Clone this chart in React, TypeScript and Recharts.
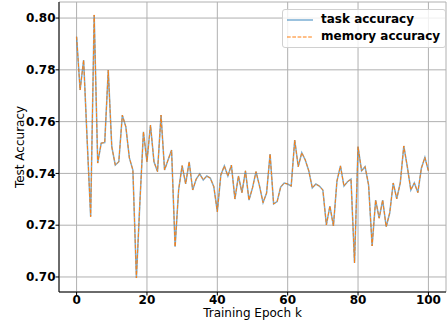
import {
  CartesianGrid,
  Line,
  LineChart,
  XAxis,
  YAxis,
} from "recharts";

const FONT = "'DejaVu Sans', sans-serif";

const epochs = Array.from({ length: 101 }, (_, i) => i);

const taskAccuracy = [
  0.7928, 0.7722, 0.7838, 0.7529, 0.7233, 0.8012, 0.744, 0.7517, 0.7519, 0.7799,
  0.7503, 0.7432, 0.7445, 0.7625, 0.758, 0.746, 0.7413, 0.6996, 0.729, 0.7561,
  0.7445, 0.7587, 0.7445, 0.7407, 0.7625, 0.7413, 0.7452, 0.749, 0.7117, 0.7336,
  0.743, 0.736, 0.7445, 0.7336, 0.7378, 0.7398, 0.7375, 0.739, 0.7382, 0.7349,
  0.7252, 0.7394, 0.7429, 0.739, 0.7432, 0.7301, 0.739, 0.7326, 0.741, 0.7297,
  0.7344, 0.7407, 0.7351, 0.7287, 0.7324, 0.7475, 0.7282, 0.7291, 0.7347, 0.7363,
  0.7359, 0.7351, 0.7529, 0.7426, 0.748, 0.7452, 0.741, 0.7344, 0.7359, 0.7351,
  0.7336, 0.7201, 0.7274, 0.7197, 0.737, 0.7429, 0.7351, 0.7368, 0.7378, 0.7054,
  0.7503, 0.741, 0.7426, 0.7355, 0.712, 0.7297, 0.7227, 0.7297, 0.7194, 0.7247,
  0.7363, 0.7302, 0.7363, 0.7506, 0.7426, 0.7336, 0.7363, 0.7326, 0.742, 0.7462,
  0.741,
];

const memoryAccuracy = [
  0.7928, 0.7722, 0.7838, 0.7529, 0.7233, 0.8012, 0.744, 0.7517, 0.7519, 0.7799,
  0.7503, 0.7432, 0.7445, 0.7625, 0.758, 0.746, 0.7413, 0.6996, 0.729, 0.7561,
  0.7445, 0.7587, 0.7445, 0.7407, 0.7625, 0.7413, 0.7452, 0.749, 0.7117, 0.7336,
  0.743, 0.736, 0.7445, 0.7336, 0.7378, 0.7398, 0.7375, 0.739, 0.7382, 0.7349,
  0.7252, 0.7394, 0.7429, 0.739, 0.7432, 0.7301, 0.739, 0.7326, 0.741, 0.7297,
  0.7344, 0.7407, 0.7351, 0.7287, 0.7324, 0.7475, 0.7282, 0.7291, 0.7347, 0.7363,
  0.7359, 0.7351, 0.7529, 0.7426, 0.748, 0.7452, 0.741, 0.7344, 0.7359, 0.7351,
  0.7336, 0.7201, 0.7274, 0.7197, 0.737, 0.7429, 0.7351, 0.7368, 0.7378, 0.7054,
  0.7503, 0.741, 0.7426, 0.7355, 0.712, 0.7297, 0.7227, 0.7297, 0.7194, 0.7247,
  0.7363, 0.7302, 0.7363, 0.7506, 0.7426, 0.7336, 0.7363, 0.7326, 0.742, 0.7462,
  0.741,
];

const xTicks = [0, 20, 40, 60, 80, 100];
const yTicks = [0.7, 0.72, 0.74, 0.76, 0.78, 0.8];

const data = epochs.map((epoch, i) => ({
  epoch,
  task: taskAccuracy[i],
  memory: memoryAccuracy[i],
}));

const tickStyle = { fill: "#000", fontSize: 12, fontWeight: "bold", fontFamily: FONT };

function LegendBox() {
  return (
    <div
      style={{
        position: "absolute",
        left: 282,
        top: 9,
        border: "1px solid #d0d0d0",
        borderRadius: 3,
        background: "rgba(255,255,255,0.8)",
        padding: "1px 5px 2px 4px",
        fontFamily: FONT,
        fontSize: 12,
        fontWeight: "bold",
        color: "#000",
        lineHeight: "17px",
        whiteSpace: "nowrap",
      }}
    >
      <div style={{ display: "flex", alignItems: "center" }}>
        <svg width={26} height={8} style={{ marginRight: 8 }}>
          <line x1={0} y1={4} x2={26} y2={4} stroke="#1f77b4" strokeOpacity={0.6} strokeWidth={1.5} />
        </svg>
        task accuracy
      </div>
      <div style={{ display: "flex", alignItems: "center" }}>
        <svg width={26} height={8} style={{ marginRight: 8 }}>
          <line x1={0} y1={4} x2={26} y2={4} stroke="#ff7f0e" strokeWidth={1} strokeDasharray="3.7 1.6" />
        </svg>
        memory accuracy
      </div>
    </div>
  );
}

function YLabel({ viewBox }: any) {
  const cx = viewBox.x + 20;
  const cy = viewBox.y + viewBox.height / 2;
  return (
    <text
      x={cx}
      y={cy}
      transform={`rotate(-90 ${cx} ${cy})`}
      textAnchor="middle"
      dominantBaseline="central"
      fontFamily={FONT}
      fontSize={12}
      fill="#000"
    >
      Test Accuracy
    </text>
  );
}

export default function App() {
  return (
    <div style={{ position: "absolute", left: 0, top: 0, width: 447, height: 322, background: "#fff" }}>
      <LineChart
        width={447}
        height={322}
        data={data}
        margin={{ top: 2, right: 1, left: 0, bottom: 0 }}
      >
        <CartesianGrid stroke="#b0b0b0" strokeWidth={1} />
        <XAxis
          dataKey="epoch"
          type="number"
          domain={[-5, 105]}
          ticks={xTicks}
          height={30}
          tickSize={3.5}
          tickMargin={0}
          tick={tickStyle}
          stroke="#000"
          tickLine={{ stroke: "#000" }}
          axisLine={{ stroke: "#000" }}
          label={{
            value: "Training Epoch k",
            position: "insideBottom",
            offset: 5,
            fill: "#000",
            fontSize: 12,
            fontFamily: FONT,
          }}
        />
        <XAxis
          xAxisId="top"
          orientation="top"
          dataKey="epoch"
          type="number"
          domain={[-5, 105]}
          height={0}
          tick={false}
          tickLine={false}
          axisLine={{ stroke: "#000" }}
        />
        <YAxis
          type="number"
          domain={[0.6942, 0.8062]}
          ticks={yTicks}
          width={59}
          tickSize={3.5}
          tickMargin={0}
          tick={tickStyle}
          tickFormatter={(v: number) => v.toFixed(2)}
          tickLine={{ stroke: "#000" }}
          axisLine={{ stroke: "#000" }}
          label={<YLabel />}
        />
        <YAxis
          yAxisId="right"
          orientation="right"
          type="number"
          domain={[0.6942, 0.8062]}
          width={0}
          tick={false}
          tickLine={false}
          axisLine={{ stroke: "#000" }}
        />
        <Line
          dataKey="task"
          name="task accuracy"
          stroke="#1f77b4"
          strokeOpacity={0.6}
          strokeWidth={1.5}
          dot={false}
          type="linear"
          isAnimationActive={false}
        />
        <Line
          dataKey="memory"
          name="memory accuracy"
          stroke="#ff7f0e"
          strokeWidth={1}
          strokeDasharray="3.7 1.6"
          dot={false}
          type="linear"
          isAnimationActive={false}
        />
      </LineChart>
      <LegendBox />
    </div>
  );
}
